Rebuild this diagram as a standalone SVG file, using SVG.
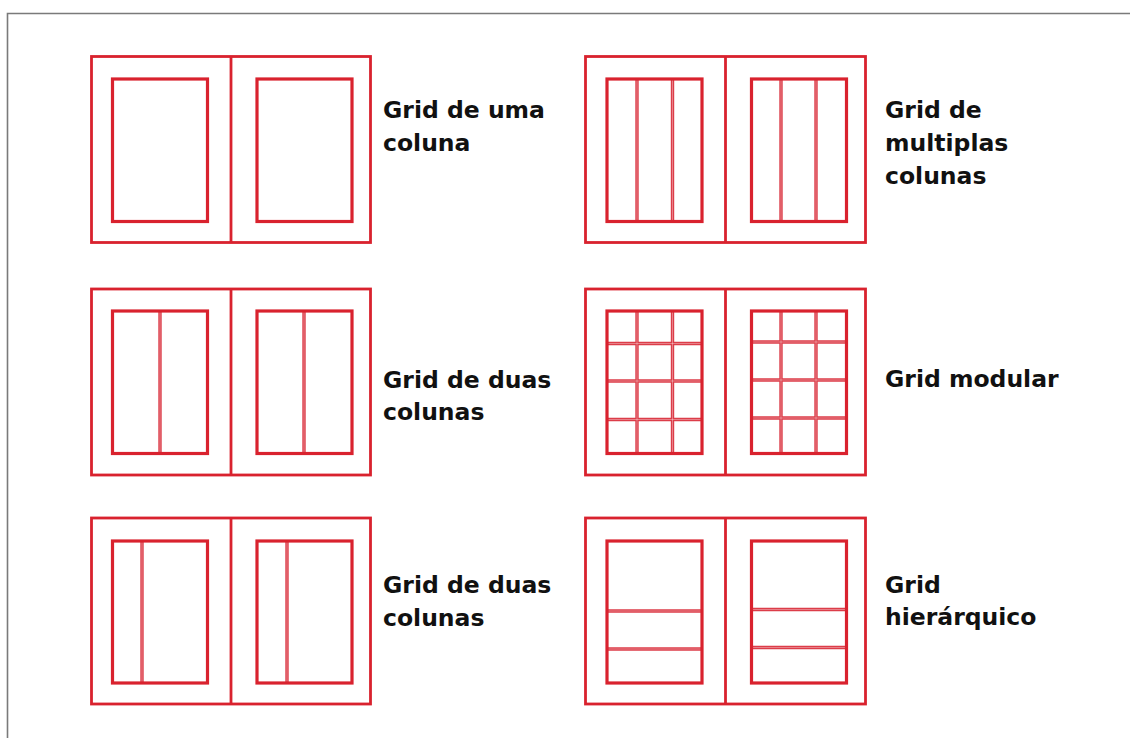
<svg xmlns="http://www.w3.org/2000/svg" width="1130" height="738" viewBox="0 0 1130 738">
<style>
.o{fill:none;stroke:#d9222e;stroke-width:2.8}
.i{fill:none;stroke:#d9222e;stroke-width:3.2}
.dv{stroke:#dc3d49;stroke-width:3.4}
.dc{stroke:#ffffff;stroke-width:0.7;stroke-opacity:0.5}
.t{font-family:"DejaVu Sans",Verdana,sans-serif;font-weight:bold;font-size:23.5px;fill:#111}
</style>
<rect width="1130" height="738" fill="#fff"/>
<path d="M7.5 738 V13.5 H1130" fill="none" stroke="#7a7a7a" stroke-width="1.6"/>

<g id="grid-uma-coluna">
<rect class="o" x="91.5" y="56.5" width="279" height="186"/>
<line class="o" x1="231" y1="56.5" x2="231" y2="242.5"/>
<rect class="i" x="112.5" y="79" width="95" height="142.5"/>
<rect class="i" x="257" y="79" width="95" height="142.5"/>
<text class="t" x="383" y="117.5">Grid de uma</text>
<text class="t" x="383" y="150.5">coluna</text>
</g>

<g id="grid-multiplas-colunas">
<rect class="o" x="585.5" y="56.5" width="280" height="186"/>
<line class="o" x1="725.5" y1="56.5" x2="725.5" y2="242.5"/>
<g class="dv">
<line x1="637" y1="79" x2="637" y2="221.5"/><line x1="672.5" y1="79" x2="672.5" y2="221.5"/>
<line x1="781" y1="79" x2="781" y2="221.5"/><line x1="816" y1="79" x2="816" y2="221.5"/>
</g>
<g class="dc">
<line x1="637" y1="79" x2="637" y2="221.5"/><line x1="672.5" y1="79" x2="672.5" y2="221.5"/>
<line x1="781" y1="79" x2="781" y2="221.5"/><line x1="816" y1="79" x2="816" y2="221.5"/>
</g>
<rect class="i" x="607" y="79" width="95" height="142.5"/>
<rect class="i" x="751.5" y="79" width="95" height="142.5"/>
<text class="t" x="885" y="118">Grid de</text>
<text class="t" x="885" y="151">multiplas</text>
<text class="t" x="885" y="184">colunas</text>
</g>

<g id="grid-duas-colunas-1">
<rect class="o" x="91.5" y="289" width="279" height="186"/>
<line class="o" x1="231" y1="289" x2="231" y2="475"/>
<g class="dv">
<line x1="160" y1="311" x2="160" y2="453.5"/><line x1="304" y1="311" x2="304" y2="453.5"/>
</g>
<g class="dc">
<line x1="160" y1="311" x2="160" y2="453.5"/><line x1="304" y1="311" x2="304" y2="453.5"/>
</g>
<rect class="i" x="112.5" y="311" width="95" height="142.5"/>
<rect class="i" x="257" y="311" width="95" height="142.5"/>
<text class="t" x="383" y="387.5">Grid de duas</text>
<text class="t" x="383" y="420">colunas</text>
</g>

<g id="grid-modular">
<rect class="o" x="585.5" y="289" width="280" height="186"/>
<line class="o" x1="725.5" y1="289" x2="725.5" y2="475"/>
<g class="dv">
<line x1="637" y1="311" x2="637" y2="453.5"/><line x1="672.5" y1="311" x2="672.5" y2="453.5"/>
<line x1="607" y1="343.5" x2="702" y2="343.5"/><line x1="607" y1="381" x2="702" y2="381"/><line x1="607" y1="419.5" x2="702" y2="419.5"/>
<line x1="781" y1="311" x2="781" y2="453.5"/><line x1="816" y1="311" x2="816" y2="453.5"/>
<line x1="751.5" y1="342" x2="846.5" y2="342"/><line x1="751.5" y1="380" x2="846.5" y2="380"/><line x1="751.5" y1="418" x2="846.5" y2="418"/>
</g>
<g class="dc">
<line x1="637" y1="311" x2="637" y2="453.5"/><line x1="672.5" y1="311" x2="672.5" y2="453.5"/>
<line x1="607" y1="343.5" x2="702" y2="343.5"/><line x1="607" y1="381" x2="702" y2="381"/><line x1="607" y1="419.5" x2="702" y2="419.5"/>
<line x1="781" y1="311" x2="781" y2="453.5"/><line x1="816" y1="311" x2="816" y2="453.5"/>
<line x1="751.5" y1="342" x2="846.5" y2="342"/><line x1="751.5" y1="380" x2="846.5" y2="380"/><line x1="751.5" y1="418" x2="846.5" y2="418"/>
</g>
<rect class="i" x="607" y="311" width="95" height="142.5"/>
<rect class="i" x="751.5" y="311" width="95" height="142.5"/>
<text class="t" x="885" y="387">Grid modular</text>
</g>

<g id="grid-duas-colunas-2">
<rect class="o" x="91.5" y="518" width="279" height="186"/>
<line class="o" x1="231" y1="518" x2="231" y2="704"/>
<g class="dv">
<line x1="142" y1="541" x2="142" y2="683"/><line x1="287" y1="541" x2="287" y2="683"/>
</g>
<g class="dc">
<line x1="142" y1="541" x2="142" y2="683"/><line x1="287" y1="541" x2="287" y2="683"/>
</g>
<rect class="i" x="112.5" y="541" width="95" height="142"/>
<rect class="i" x="257" y="541" width="95" height="142"/>
<text class="t" x="383" y="593">Grid de duas</text>
<text class="t" x="383" y="625.5">colunas</text>
</g>

<g id="grid-hierarquico">
<rect class="o" x="585.5" y="518" width="280" height="186"/>
<line class="o" x1="725.5" y1="518" x2="725.5" y2="704"/>
<g class="dv">
<line x1="607" y1="611" x2="702" y2="611"/><line x1="607" y1="649" x2="702" y2="649"/>
<line x1="751.5" y1="609.5" x2="846.5" y2="609.5"/><line x1="751.5" y1="647.5" x2="846.5" y2="647.5"/>
</g>
<g class="dc">
<line x1="607" y1="611" x2="702" y2="611"/><line x1="607" y1="649" x2="702" y2="649"/>
<line x1="751.5" y1="609.5" x2="846.5" y2="609.5"/><line x1="751.5" y1="647.5" x2="846.5" y2="647.5"/>
</g>
<rect class="i" x="607" y="541" width="95" height="142"/>
<rect class="i" x="751.5" y="541" width="95" height="142"/>
<text class="t" x="885" y="592.5">Grid</text>
<text class="t" x="885" y="625">hierárquico</text>
</g>

<g id="connectors"></g>
</svg>
